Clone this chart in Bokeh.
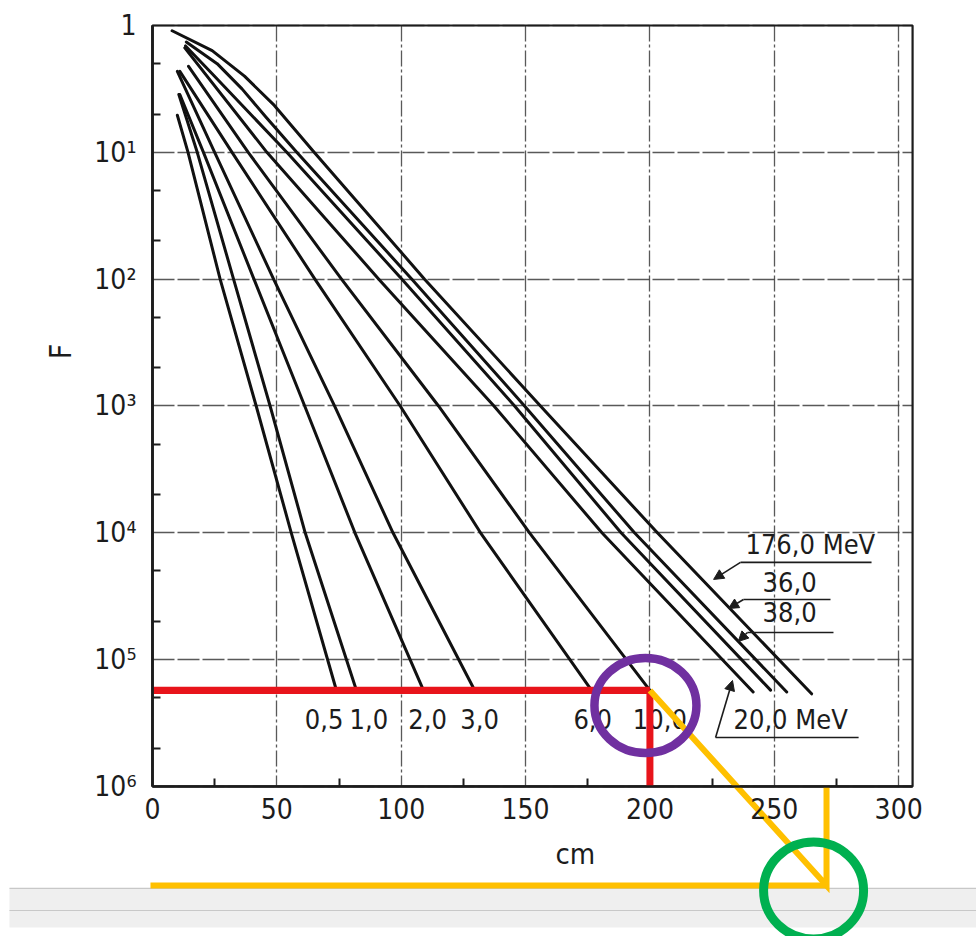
import numpy as np
from bokeh.plotting import figure
from bokeh.models import (Range1d, LogScale, LinearAxis, LogAxis, FixedTicker, Grid,
                          Label, Arrow, NormalHead)
from bokeh.core.properties import value
from bokeh.embed import file_html
from bokeh.resources import INLINE

# ---------------- data ----------------
energy_labels = ["0,5", "1,0", "2,0", "3,0", "6,0", "10,0", "20,0", "38,0", "36,0", "176,0"]

depth_05 = [10.0, 14.3, 27.2, 41.7, 55.8, 73.6]
F_05 = [5.1, 10, 100, 1e3, 1e4, 1.65e5]
depth_10 = [10.6, 18.0, 32.6, 47.3, 61.4, 81.6]
F_10 = [3.5, 10, 100, 1e3, 1e4, 1.65e5]
depth_20 = [11.0, 20.5, 40.8, 61.2, 81.4, 108.4]
F_20 = [3.5, 10, 100, 1e3, 1e4, 1.65e5]
depth_30 = [10.0, 25.0, 48.7, 73.2, 96.7, 128.9]
F_30 = [2.3, 10, 100, 1e3, 1e4, 1.65e5]
depth_60 = [11.0, 32.0, 65.3, 99.6, 131.9, 176.2]
F_60 = [2.3, 10, 100, 1e3, 1e4, 1.71e5]
depth_100 = [14.5, 38.5, 76.0, 115.0, 151.6, 200.0]
F_100 = [2.1, 10, 100, 1e3, 1e4, 1.75e5]
depth_200 = [13.0, 46.0, 91.0, 137.3, 180.7, 241.5]
F_200 = [1.5, 10, 100, 1e3, 1e4, 1.8e5]
depth_380 = [13.3, 24.0, 54.0, 100.3, 145.6, 188.4, 248.5]
F_380 = [1.45, 2.4, 10, 100, 1e3, 1e4, 1.74e5]
depth_360 = [13.6, 26.0, 36.0, 45.5, 58.0, 104.3, 149.6, 193.8, 255.0]
F_360 = [1.35, 2.0, 3.16, 5.25, 10, 100, 1e3, 1e4, 1.8e5]
depth_1760 = [7.9, 24.0, 37.0, 49.0, 65.0, 109.4, 156.0, 203.0, 265.0]
F_1760 = [1.1, 1.58, 2.51, 4.27, 10, 100, 1e3, 1e4, 1.86e5]

curves_depth = [depth_05, depth_10, depth_20, depth_30, depth_60, depth_100,
                depth_200, depth_380, depth_360, depth_1760]
curves_F = [F_05, F_10, F_20, F_30, F_60, F_100, F_200, F_380, F_360, F_1760]

x_ticks = [0, 50, 100, 150, 200, 250, 300]
x_minor = [25, 75, 125, 175, 225, 275]
y_ticks = [1, 10, 100, 1000, 10000, 100000, 1000000]
y_minor = [2, 5, 20, 50, 200, 500, 2000, 5000, 20000, 50000, 200000, 500000]
y_tick_labels = ["1", "10¹", "10²", "10³", "10⁴", "10⁵", "10⁶"]

# highlighted reading (red / yellow marks)
read_depth = 200.0
read_F = 1.75e5
yellow_depth = 271.0
yellow_F = 6.03e6

# ---------------- layout (positions of annotations) ----------------
X_LO, X_HI = -61.1, 331.3            # visible x span of the canvas
F_LO, F_HI = 10 ** 7.183, 10 ** -0.197
FRAME_X = (0, 305.6)
FRAME_F = (1, 1e6)

bottom_label_x = [69.0, 87.0, 110.6, 131.5, 177.0, 204.0]
bottom_label_F = 2.92e5

mev_text = ["176,0 MeV", "36,0", "38,0", "20,0 MeV"]
mev_x = [238.4, 245.3, 245.3, 233.6]
mev_F = [1.24e4, 2.44e4, 4.21e4, 2.94e5]
ul_x0 = [236.4, 237.6, 239.2, 226.4]
ul_x1 = [289.1, 272.6, 273.8, 283.9]
ul_F = [1.71e4, 3.36e4, 6.11e4, 4.11e5]
tip_x = [225.6, 231.6, 235.5, 233.2]
tip_F = [2.33e4, 3.95e4, 7.19e4, 1.46e5]

FONT = "'Liberation Sans Narrow', 'DejaVu Sans Condensed', 'Liberation Sans', sans-serif"
INK = "#1c1c1c"

p = figure(width=976, height=936, x_range=Range1d(X_LO, X_HI), y_range=Range1d(F_LO, F_HI),
           x_axis_type=None, y_axis_type=None, toolbar_location=None, output_backend="svg",
           min_border=0, min_border_left=0, min_border_right=0, min_border_top=0, min_border_bottom=0)
p.y_scale = LogScale()
p.outline_line_color = None
p.background_fill_color = "white"
p.border_fill_color = "white"

xt = FixedTicker(ticks=x_ticks, minor_ticks=x_minor)
yt = FixedTicker(ticks=y_ticks, minor_ticks=y_minor)

# gray band at the bottom of the screenshot
p.quad(left=-57.5, right=X_HI, top=10 ** 6.804, bottom=10 ** 7.112, fill_color="#efefef",
       line_color=None, level="underlay")
p.segment(x0=[-57.5, -57.5], x1=[X_HI, X_HI], y0=[10 ** 6.804, 10 ** 6.978], y1=[10 ** 6.804, 10 ** 6.978],
          line_color="#c8c8c8", line_width=1.2, level="underlay")

xg = Grid(dimension=0, ticker=xt, cross_bounds=FRAME_F, bounds=FRAME_X,
          grid_line_color="#3c3c3c", grid_line_width=1.3, grid_line_dash="16 3 3 3", grid_line_alpha=0.85)
yg = Grid(dimension=1, ticker=yt, cross_bounds=FRAME_X, bounds=FRAME_F,
          grid_line_color="#3c3c3c", grid_line_width=1.3, grid_line_dash="22 3", grid_line_alpha=0.85)
p.add_layout(xg, "center")
p.add_layout(yg, "center")

# frame border
p.quad(left=[FRAME_X[0]], right=[FRAME_X[1]], top=[FRAME_F[0]], bottom=[FRAME_F[1]],
       fill_color=None, line_color=INK, line_width=2.2)

xaxis = LinearAxis(ticker=xt, fixed_location=1e6, bounds=FRAME_X,
                   major_tick_in=0, major_tick_out=0, minor_tick_in=8, minor_tick_out=0,
                   axis_line_width=2.6, axis_line_color=INK, minor_tick_line_width=2, minor_tick_line_color=INK,
                   major_label_standoff=12, major_label_text_font=FONT,
                   major_label_text_font_size="28px", major_label_text_color=INK)
p.add_layout(xaxis, "below")

yaxis = LogAxis(ticker=yt, fixed_location=0, bounds=FRAME_F,
                major_tick_in=0, major_tick_out=0, minor_tick_in=8, minor_tick_out=0,
                axis_line_width=2.8, axis_line_color=INK, minor_tick_line_width=2, minor_tick_line_color=INK,
                major_label_standoff=16, major_label_text_font=FONT,
                major_label_text_font_size="28px", major_label_text_color=INK,
                major_label_overrides={t: s for t, s in zip(y_ticks, y_tick_labels)})
p.add_layout(yaxis, "left")

p.add_layout(Label(x=-37, y=10 ** 2.57, text="F", angle=np.pi / 2, text_align="center",
                   text_baseline="middle", text_font=FONT, text_font_size="30px", text_color=INK))
p.add_layout(Label(x=170, y=10 ** 6.53, text="cm", text_align="center",
                   text_baseline="middle", text_font=FONT, text_font_size="29px", text_color=INK))

# curves
for d, f in zip(curves_depth, curves_F):
    p.line(d, f, line_color="#111111", line_width=3, line_join="round", line_cap="round")

# energy labels below curve ends
p.text(x=bottom_label_x, y=[bottom_label_F] * 6, text=energy_labels[:6], text_align="center",
       text_baseline="middle", text_font=value(FONT), text_font_size="27px", text_color=INK)

# labelled group with leaders
p.text(x=mev_x, y=mev_F, text=mev_text, text_align="left", text_baseline="middle",
       text_font=value(FONT), text_font_size="27px", text_color=INK)
p.segment(x0=ul_x0, x1=ul_x1, y0=ul_F, y1=ul_F, line_color=INK, line_width=1.6)
for xs, fs, xe, fe in zip(ul_x0, ul_F, tip_x, tip_F):
    p.add_layout(Arrow(x_start=xs, y_start=fs, x_end=xe, y_end=fe, line_color=INK, line_width=1.6,
                       end=NormalHead(size=10, fill_color=INK, line_color=INK)))

# red reading lines
p.line([0, read_depth], [read_F, read_F], line_color="#E8141B", line_width=7.3, line_cap="butt")
p.line([read_depth, read_depth], [read_F, 1e6], line_color="#E8141B", line_width=7, line_cap="butt")

# yellow lines
p.multi_line(xs=[[read_depth, yellow_depth, yellow_depth], [-0.8, yellow_depth]],
             ys=[[read_F, yellow_F, 1e6], [yellow_F, yellow_F]],
             line_color="#FFC000", line_width=6, line_join="miter")

# circles
p.ellipse(x=[198.2], y=[10 ** 5.362], width=102, height=95, width_units="screen", height_units="screen",
          fill_color=None, line_color="#7030A0", line_width=8.5)
p.ellipse(x=[265.8], y=[10 ** 6.82], width=100, height=97, width_units="screen", height_units="screen",
          fill_color=None, line_color="#00B050", line_width=9)

open("out.html", "w").write(file_html(p, INLINE))
